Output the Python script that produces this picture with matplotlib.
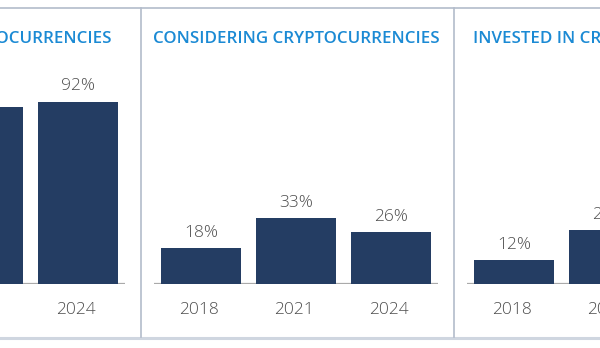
import matplotlib.pyplot as plt
from matplotlib.lines import Line2D

plt.rcParams['font.family'] = ['Open Sans', 'DejaVu Sans']

titles = ["AWARE OF CRYPTOCURRENCIES", "CONSIDERING CRYPTOCURRENCIES", "INVESTED IN CRYPTOCURRENCIES"]
years = ["2018", "2021", "2024"]
aware = [86, 89, 92]
considering = [18, 33, 26]
invested = [12, 27, 22]

BAR = '#243d63'
TITLE = '#1b8ad4'
TXT = '#4d4d4d'
FRAME = '#b3bccb'

W, H = 600, 348
PANEL = 313


def draw_panel(fig, left, title, values):
    # bars axes: baseline span inside the panel
    x0 = left + 14
    base = 283.7
    top = 60
    ax = fig.add_axes([x0 / W, (H - base) / H, 284 / W, (base - top) / H])
    ax.bar(range(len(values)), values, width=0.845, color=BAR, zorder=3)
    ax.axhline(0, color='#aaaaaa', lw=1.6, zorder=2)
    ax.set_xlim(-0.5, 2.5)
    ax.set_ylim(0, (base - top) / 1.98)
    ax.axis('off')
    for i, v in enumerate(values):
        ax.annotate(f"{v}%", (i, v), xytext=(0, 8), textcoords='offset points',
                    ha='center', va='baseline', fontsize=12.5, color=TXT, fontweight='light')
        ax.annotate(years[i], (i, 0), xytext=(-1.5, -21.8), textcoords='offset points',
                    ha='center', va='baseline', fontsize=12.5, color=TXT, fontweight='light')
    fig.text((left + PANEL / 2) / W, 1 - 38.7 / H, title, ha='center', va='center',
             fontsize=12.2, fontweight='semibold', color=TITLE)


def main():
    fig = plt.figure(figsize=(W / 100, H / 100), dpi=100)
    lefts = [140 - PANEL, 140, 140 + PANEL]
    for left, title, vals in zip(lefts, titles, [aware, considering, invested]):
        draw_panel(fig, left, title, vals)

    # panel frame lines
    fig.add_artist(Line2D([0, 1], [1 - 7.5 / H, 1 - 7.5 / H], color=FRAME, lw=1.2))
    fig.add_artist(Line2D([0, 1], [1 - 337.5 / H, 1 - 337.5 / H], color='#cfd6e0', lw=2.2))
    for xv in [140.5, 453.5]:
        fig.add_artist(Line2D([xv / W, xv / W], [1 - 337 / H, 1 - 7.5 / H], color=FRAME, lw=1.2))

    fig.savefig("out.png", dpi=100)


if __name__ == "__main__":
    main()
